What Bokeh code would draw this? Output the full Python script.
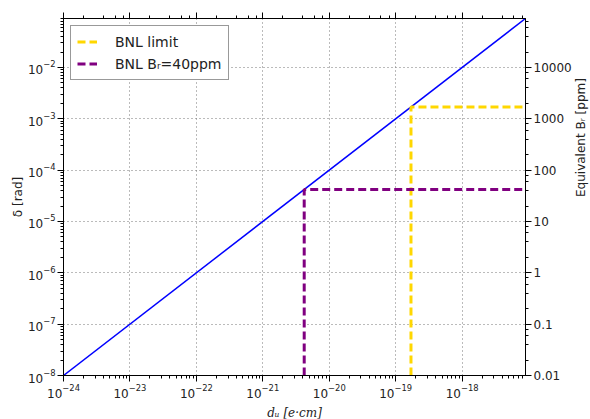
import math
from bokeh.plotting import figure
from bokeh.models import (LogAxis, Range1d, LogScale, CustomJSTickFormatter,
                          Legend, LegendItem)
from bokeh.embed import file_html
from bokeh.resources import INLINE

# ---- data ----
d_line = [1e-24, 9e-18]          # d_u [e cm]
delta_line = [1e-8, 9e-2]        # delta [rad]
bnl_limit_d = 1.7e-19
bnl_limit_delta = 1.7e-3
bnl_40_d = 4.2e-21
bnl_40_delta = 4.2e-5
x_range = (1e-24, 9e-18)
y_range = (1e-8, 9e-2)
ppm_range = (1e-2, 9e4)
legend_labels = ["BNL limit", "BNL B\u1d63=40ppm"]

FONT = "DejaVu Sans"

p = figure(x_axis_type="log", y_axis_type="log",
           x_range=Range1d(*x_range), y_range=Range1d(*y_range),
           frame_width=462, frame_height=357,
           min_border_left=63, min_border_right=60, min_border_top=18, min_border_bottom=40,
           output_backend="svg", toolbar_location=None,
           background_fill_color="white", border_fill_color="white")
p.outline_line_color = "black"
p.outline_line_width = 1

p.extra_y_ranges = {"ppm": Range1d(*ppm_range)}
p.extra_y_scales = {"ppm": LogScale()}

# grids
for g in (p.xgrid, p.ygrid):
    g.grid_line_color = "#777777"
    g.grid_line_dash = "1 3"
    g.grid_line_width = 1

# axes styling
def style_axis(ax):
    ax.major_label_text_font = FONT
    ax.major_label_text_font_size = "12px"
    ax.major_label_text_color = "#222222"
    ax.axis_line_color = "black"
    ax.major_tick_line_color = "black"
    ax.minor_tick_line_color = "black"
    ax.major_tick_out = 6
    ax.major_tick_in = 0
    ax.minor_tick_out = 3
    ax.minor_tick_in = 0
    ax.axis_label_text_font_style = "normal"
    ax.axis_label_text_color = "#222222"

style_axis(p.xaxis[0])
style_axis(p.yaxis[0])
p.xaxis[0].axis_label = "d\u1d64 [e\u00b7cm]"
p.xaxis[0].axis_label_text_font = "DejaVu Serif"
p.xaxis[0].axis_label_text_font_style = "italic"
p.xaxis[0].axis_label_text_font_size = "12px"
p.xaxis[0].axis_label_standoff = 5
p.xaxis[0].major_label_standoff = 2
p.yaxis[0].axis_label = "\u03b4 [rad]"
p.yaxis[0].axis_label_text_font = FONT
p.yaxis[0].axis_label_text_font_size = "12px"
p.yaxis[0].major_label_standoff = 2
p.yaxis[0].axis_label_standoff = 0

top_ax = LogAxis()
style_axis(top_ax)
top_ax.major_label_text_font_size = "2px"
top_ax.major_label_text_alpha = 0
top_ax.major_label_standoff = 0
p.add_layout(top_ax, "above")

right_ax = LogAxis(y_range_name="ppm")
style_axis(right_ax)
right_ax.formatter = CustomJSTickFormatter(code="return Number(tick.toPrecision(3)).toString();")
right_ax.axis_label = "Equivalent B\u1d63  [ppm]"
right_ax.axis_label_text_font = FONT
right_ax.axis_label_text_font_size = "12px"
right_ax.major_label_standoff = 2
right_ax.axis_label_standoff = 6
try:
    right_ax.axis_label_orientation = math.pi / 2
except Exception:
    pass
right_ax.axis_label_text_align = "center"
right_ax.axis_label_text_baseline = "middle"
p.add_layout(right_ax, "right")

# lines
p.line(d_line, delta_line, line_color="#0000FF", line_width=1.5)

r1 = p.line([bnl_limit_d, bnl_limit_d, x_range[1]],
            [y_range[0], bnl_limit_delta, bnl_limit_delta],
            line_color="#FFD700", line_width=3, line_dash="8 4")
r2 = p.line([bnl_40_d, bnl_40_d, x_range[1]],
            [y_range[0], bnl_40_delta, bnl_40_delta],
            line_color="#800080", line_width=3, line_dash="8 4")

legend = Legend(items=[LegendItem(label=legend_labels[0], renderers=[r1]),
                       LegendItem(label=legend_labels[1], renderers=[r2])],
                location="top_left")
legend.label_text_font = FONT
legend.label_text_font_size = "14px"
legend.label_text_color = "#222222"
legend.border_line_color = "#333333"
legend.border_line_width = 1
legend.margin = 7
legend.padding = 6
legend.spacing = 3
legend.glyph_width = 20
legend.glyph_height = 19
legend.label_height = 19
legend.label_standoff = 18
legend.background_fill_alpha = 1
p.add_layout(legend, "center")

open("out.html", "w").write(file_html(p, INLINE))
